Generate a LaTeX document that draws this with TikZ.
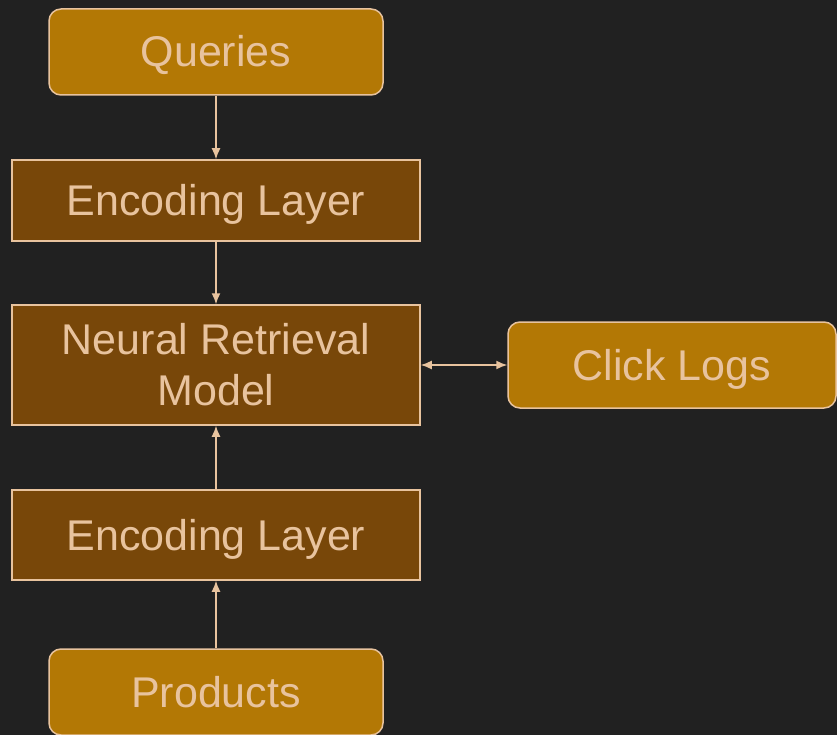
\documentclass[tikz,border=0pt]{standalone}
\usepackage{fontspec}
\setmainfont{Liberation Sans}
\usetikzlibrary{arrows.meta}
\definecolor{bgdark}{HTML}{212121}
\definecolor{gold}{HTML}{B37805}
\definecolor{brownbox}{HTML}{784709}
\definecolor{tan}{HTML}{E8C39E}
\tikzset{
  source/.style={draw=tan, line width=1.5pt, fill=gold, rounded corners=12pt,
    inner sep=0pt, text=tan, font=\fontsize{43}{51}\selectfont, align=center},
  layer/.style={draw=tan, line width=1.5pt, fill=brownbox,
    inner sep=0pt, text=tan, font=\fontsize{43}{51}\selectfont, align=center},
  oneline/.style={text height=38pt, text depth=8pt},
  link/.style={draw=tan, line width=1.5pt, -{Latex[length=11pt,width=9pt]}},
  twoway/.style={draw=tan, line width=1.5pt, {Latex[length=11pt,width=9pt]}-{Latex[length=11pt,width=9pt]}}
}
\begin{document}
\begin{tikzpicture}[x=1pt,y=-1pt]
  \fill[bgdark] (0,0) rectangle (837,735);
  \useasboundingbox (0,0) rectangle (837,735);

  \node[source, oneline, minimum width=334pt, minimum height=86pt] (queries) at (216,52) {Queries};
  \node[layer, oneline, minimum width=408pt, minimum height=81pt] (enc1) at (216,200.5) {Encoding Layer};
  \node[layer, minimum width=408pt, minimum height=120pt] (model) at (216,365) {Neural Retrieval\\Model};
  \node[layer, oneline, minimum width=408pt, minimum height=90pt] (enc2) at (216,535) {Encoding Layer};
  \node[source, oneline, minimum width=334pt, minimum height=86pt] (products) at (216,692) {Products};
  \node[source, oneline, minimum width=328pt, minimum height=86pt] (clicks) at (672,365) {Click Logs};

  \draw[link] (queries) -- (enc1);
  \draw[link] (enc1) -- (model);
  \draw[link] (enc2) -- (model);
  \draw[link] (products) -- (enc2);
  \draw[twoway] (model) -- (clicks);
\end{tikzpicture}
\end{document}
